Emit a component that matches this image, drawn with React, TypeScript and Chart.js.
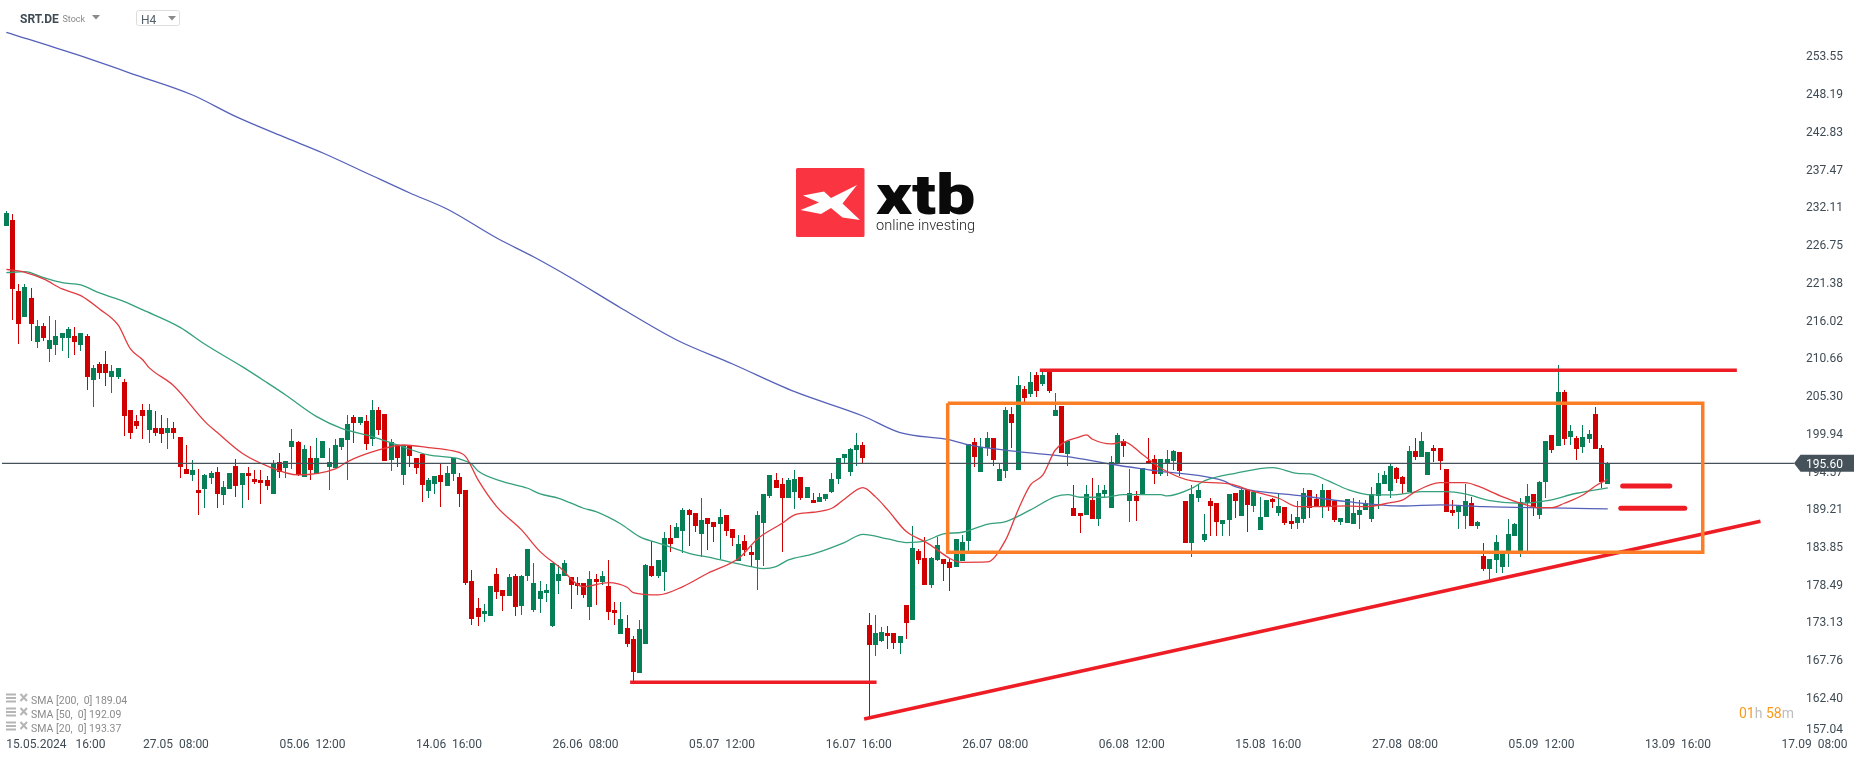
import React, { useEffect, useRef } from "react";
import Chart from "chart.js/auto";

// candles, one per 4 hour bar
const opens = [
  229.36,230.17,220.08,216.43,219.09,212.88,215.11,211.89,212.41,213.40,
  213.40,213.69,212.41,213.69,207.44,209.71,209.71,207.86,207.86,207.15,
  203.17,201.61,203.17,200.33,200.62,200.62,199.91,200.62,199.34,194.79,
  193.94,191.81,191.95,193.51,194.36,191.10,191.95,195.22,192.52,194.22,
  193.37,193.23,193.23,191.24,195.79,194.94,197.92,198.63,193.66,196.36,
  194.09,196.36,195.08,194.94,197.92,198.92,202.18,201.33,201.62,199.06,
  203.18,202.61,196.07,198.21,193.94,198.21,196.36,196.93,191.67,192.66,
  193.94,192.38,194.09,193.66,191.81,178.88,175.05,174.19,173.91,179.88,
  177.60,176.75,179.59,175.33,179.59,174.76,176.33,177.18,172.49,178.89,
  179.60,179.45,178.60,178.60,175.19,179.17,178.74,178.18,174.77,171.36,
  172.21,170.65,165.82,169.94,181.02,179.60,180.17,185.00,185.00,185.99,
  188.97,188.55,185.56,187.84,187.27,186.99,188.26,186.27,181.73,184.57,
  183.01,181.87,187.13,190.96,193.24,192.67,190.68,191.53,193.66,190.68,
  190.39,190.10,190.53,191.53,193.37,196.36,194.37,197.49,198.20,172.63,
  169.79,170.36,171.49,171.49,170.07,175.47,173.34,183.14,182.15,178.31,
  181.86,182.00,181.58,180.87,181.72,184.56,198.63,194.37,197.78,199.20,
  193.09,194.51,202.61,194.65,206.16,205.45,208.15,206.87,208.58,202.32,
  203.74,196.92,189.25,188.55,188.26,190.39,187.69,191.25,189.26,195.65,
  198.78,190.25,190.96,191.10,195.93,196.22,194.09,195.60,195.93,197.21,
  190.25,184.28,190.68,184.71,190.25,189.97,186.98,187.55,191.39,188.12,
  191.81,189.54,186.13,187.98,190.54,188.55,189.40,187.41,187.13,187.69,
  191.81,190.54,189.54,191.81,190.25,187.27,187.13,186.98,188.26,188.97,
  187.69,190.96,192.66,191.67,194.94,193.66,191.53,197.35,196.50,193.94,
  197.78,197.78,194.79,188.97,188.68,188.12,189.96,186.70,182.43,180.59,
  181.86,180.87,182.72,185.27,183.14,189.96,191.24,188.26,192.95,199.62,
  198.06,205.73,199.34,199.20,197.92,199.06,202.61,197.78,192.66,
];
const highs = [
  231.45,231.02,221.08,221.08,220.51,215.96,215.53,216.53,215.96,214.11,
  214.97,214.97,214.11,213.97,209.57,210.00,211.56,209.57,209.14,207.58,
  203.17,202.46,204.03,204.03,203.03,202.46,202.04,201.47,199.34,198.20,
  196.07,194.79,194.08,194.51,195.08,193.09,194.22,196.21,194.22,195.08,
  194.65,194.65,193.80,196.07,197.07,195.93,200.48,198.77,198.21,198.06,
  199.20,198.77,197.78,199.06,199.20,202.47,202.47,202.18,202.47,204.60,
  203.60,202.61,199.06,198.21,198.21,198.21,196.36,196.93,193.52,193.80,
  195.51,195.22,196.36,194.23,191.81,180.45,176.47,175.62,178.17,180.73,
  177.60,179.88,179.88,179.74,183.43,181.44,178.88,178.46,181.44,181.16,
  181.87,179.45,179.45,178.60,180.31,179.88,180.31,181.87,175.90,175.90,
  174.05,171.07,173.35,181.30,184.57,181.87,185.85,186.84,187.13,189.26,
  189.12,188.55,190.68,187.84,187.27,189.12,188.26,186.27,185.42,185.42,
  183.86,188.83,191.25,193.95,194.23,193.52,193.52,194.66,193.66,192.24,
  191.38,191.38,191.24,194.23,196.36,196.92,197.78,199.91,198.63,174.33,
  174.05,172.34,172.49,171.49,171.07,175.47,186.70,183.43,185.13,182.29,
  185.13,182.00,182.00,184.85,185.42,198.35,199.20,199.20,200.05,199.20,
  195.65,203.60,203.60,208.01,206.59,208.58,208.58,208.58,208.58,205.59,
  203.74,198.77,192.52,188.55,192.52,193.52,192.52,192.52,196.65,199.91,
  199.06,194.80,191.67,194.94,199.20,196.79,196.22,197.50,197.50,197.21,
  190.25,192.52,192.67,188.40,190.68,189.97,187.55,191.25,191.39,192.10,
  191.81,191.53,190.82,190.39,190.68,191.25,189.40,188.40,190.25,192.10,
  191.81,191.25,192.67,191.81,190.25,187.84,190.54,190.67,190.39,190.39,
  192.24,194.23,194.51,195.65,195.08,193.80,198.06,199.20,200.05,197.21,
  198.20,197.78,194.79,190.39,189.54,192.66,190.81,187.41,184.28,182.00,
  185.42,182.86,187.69,187.12,190.67,192.66,191.24,193.09,198.77,199.62,
  209.57,206.02,201.05,199.48,201.05,200.33,203.60,198.20,195.79,
];
const lows = [
  229.36,215.96,212.55,216.43,212.98,211.98,212.98,210.00,210.99,211.56,
  210.56,210.99,211.56,206.02,203.60,207.58,206.58,205.59,207.58,199.48,
  199.05,200.47,199.05,198.48,199.48,198.48,197.63,199.05,193.51,194.08,
  193.09,188.25,189.25,192.66,189.25,189.68,191.95,190.81,189.25,190.39,
  192.66,189.82,191.81,191.24,193.52,193.52,194.80,193.80,193.66,193.23,
  194.09,196.36,191.81,194.94,197.50,193.23,198.49,201.05,197.50,198.06,
  199.63,195.93,194.51,195.08,192.52,195.08,194.09,190.11,190.68,191.24,
  189.40,192.38,193.09,189.40,178.31,172.63,172.49,173.06,173.91,176.33,
  174.62,176.75,173.91,174.05,178.88,174.48,174.34,175.90,172.35,177.04,
  179.60,174.91,176.90,176.47,173.35,175.48,178.32,173.35,172.64,171.36,
  169.51,164.68,165.82,169.94,179.45,179.31,177.47,183.01,185.00,182.86,
  183.86,185.85,182.30,183.29,184.43,182.01,185.28,183.86,181.73,182.44,
  180.88,177.61,181.02,190.68,192.10,183.01,190.68,189.12,190.39,190.68,
  189.96,190.10,190.25,191.38,192.66,195.65,193.80,195.22,195.65,159.41,
  168.22,170.21,169.22,169.22,168.51,170.64,173.34,181.30,178.31,177.89,
  181.72,178.88,177.46,180.87,181.72,183.14,195.08,194.37,196.64,195.22,
  193.09,193.51,197.78,194.65,204.31,205.02,205.02,206.59,205.59,202.32,
  197.07,195.22,188.12,185.71,188.26,187.69,186.70,190.68,189.26,195.65,
  196.50,187.27,187.41,191.10,195.65,192.67,193.80,193.80,194.66,193.80,
  184.28,182.29,190.11,184.43,185.28,185.28,185.28,185.28,187.84,188.12,
  185.85,188.69,186.13,187.98,189.26,188.12,186.84,186.27,186.27,187.13,
  187.84,189.54,187.84,188.83,187.27,186.84,187.13,186.98,186.27,188.97,
  187.26,189.11,192.66,190.67,192.80,191.24,191.53,196.07,196.50,193.94,
  195.79,194.65,188.68,188.12,186.27,186.27,186.70,186.27,180.30,179.02,
  180.02,180.02,180.87,185.27,182.29,183.14,188.12,187.69,190.67,197.07,
  198.06,198.20,198.20,196.07,197.07,198.49,197.63,192.09,192.66,
];
const closes = [
  231.16,220.41,215.44,220.65,215.44,215.11,213.45,213.12,213.69,214.11,
  214.68,212.83,214.11,207.86,209.14,208.43,208.43,208.71,209.14,202.32,
  199.91,200.90,202.32,203.17,199.91,199.76,200.62,199.91,195.08,194.08,
  194.65,191.38,193.94,194.22,191.24,192.23,194.22,192.38,194.22,193.80,
  192.94,192.80,192.38,195.65,194.37,195.93,198.77,193.94,197.64,194.65,
  196.36,198.77,195.79,198.21,199.20,201.19,201.33,202.18,198.35,203.18,
  200.34,195.93,198.63,196.36,198.21,196.64,194.94,192.52,193.23,193.80,
  192.95,194.23,196.36,191.24,178.60,173.48,173.77,174.62,178.17,177.32,
  176.75,179.45,175.19,179.59,183.43,178.60,177.46,177.61,181.44,179.88,
  181.44,178.32,178.18,176.90,179.17,178.74,179.60,174.48,174.34,173.49,
  169.94,165.96,172.07,181.16,179.60,181.87,185.00,184.14,186.56,188.97,
  188.26,186.70,187.55,186.99,186.56,187.98,185.99,185.00,184.14,183.29,
  182.58,188.26,191.25,193.95,192.10,190.68,193.24,193.38,190.68,192.24,
  189.96,190.81,191.24,193.37,196.36,196.92,197.63,198.20,196.36,169.79,
  171.49,171.63,171.07,170.07,171.07,172.91,183.57,181.86,178.31,182.15,
  183.99,181.30,180.73,184.85,184.42,198.35,196.50,197.92,199.20,196.07,
  194.79,203.18,201.33,206.73,204.88,207.15,205.88,208.15,205.88,203.18,
  197.07,198.77,188.12,188.12,191.25,187.69,191.39,191.81,195.79,199.63,
  198.07,191.39,190.25,194.94,195.65,194.09,196.22,196.22,197.36,194.51,
  184.28,191.25,191.81,185.56,189.54,187.27,187.55,191.25,190.25,191.81,
  189.68,191.53,187.98,190.39,190.11,189.54,187.13,186.98,187.98,191.39,
  189.26,189.54,191.81,189.54,187.55,187.84,190.54,188.54,188.97,189.96,
  191.24,192.80,193.94,195.22,193.37,192.66,197.35,196.50,198.77,197.21,
  197.35,195.93,188.68,188.54,189.54,190.25,186.70,187.26,180.59,182.00,
  184.42,182.72,185.56,186.98,190.10,190.96,189.25,192.95,198.77,197.49,
  205.73,199.06,200.19,197.63,199.34,199.77,197.63,192.95,195.60,
];

// moving averages, sampled at the candle numbers in the *Bars arrays
const sma200Bars = [0,11,21,30,37,45,51,58,65,71,79,85,91,99,108,117,127,138,144,152,155,163,171,178,185,196,198,209,216,225,231,238,249,258];
const sma200 = [256.84,253.76,250.73,247.93,244.85,241.86,239.69,236.85,234.01,231.73,227.61,224.91,221.93,217.67,213.12,209.71,205.77,202.32,199.95,198.91,198.2,197.25,196.54,195.46,194.55,193.13,192.28,190.95,190.14,189.53,189.68,189.43,189.25,189.11];

const sma50Bars = [0,3,6,9,12,15,19,22,28,32,38,42,45,50,54,59,63,68,73,75,76,80,84,86,89,93,95,99,102,106,110,114,117,120,122,124,126,130,135,138,142,145,148,151,154,158,161,165,169,171,173,177,180,186,187,191,193,198,204,208,210,213,216,220,223,228,232,235,239,244,248,253,258];
const sma50 = [222.69,222.83,221.98,221.27,220.94,219.8,218.57,217.39,214.92,212.51,209.33,207.06,205.31,202.23,200.57,199.39,198.2,196.78,196.22,195.46,194.51,193.0,192.05,191.24,190.63,189.21,188.73,186.98,185.18,184.0,182.81,182.1,181.49,180.92,180.63,180.92,181.87,182.72,184.33,185.51,184.85,184.33,184.57,185.56,185.8,186.93,187.31,188.97,190.86,191.15,190.77,190.77,191.15,191.15,190.96,192.05,193.09,194.18,194.98,194.18,194.08,193.09,191.91,191.1,191.1,191.57,191.57,191.24,190.3,189.92,190.25,191.34,192.1];

const sma20Bars = [0,3,6,9,12,15,18,20,22,23,27,32,34,38,42,47,53,55,60,64,68,72,74,76,79,83,86,89,93,97,100,101,105,109,113,118,121,125,127,130,133,135,138,140,142,145,148,154,158,161,163,165,167,169,173,174,175,178,180,183,186,191,197,201,205,208,211,216,219,223,225,227,231,235,237,241,244,247,249,251,254,256,258];
const sma20 = [223.16,222.74,221.79,220.37,219.42,217.53,215.25,211.84,210.28,209.19,206.59,201.52,199.96,197.02,195.22,193.94,194.79,195.84,197.49,198.2,197.83,197.35,196.55,193.23,189.44,186.13,183.05,180.92,178.08,178.65,177.98,177.22,176.89,178.08,179.97,182.1,184.85,187.08,188.26,188.64,189.21,190.49,192.14,190.86,188.97,185.89,184.47,181.53,181.58,184.71,188.97,192.52,193.94,197.49,199.39,199.63,199.01,198.35,198.68,196.88,194.89,193.09,192.66,191.57,190.63,189.44,189.44,189.54,189.44,190.01,190.39,191.57,192.85,192.85,192.38,190.86,189.92,189.3,189.3,189.92,191.1,192.38,193.33];

// hand drawn lines on top of the chart
const lastPrice = 195.6;
const priceLineBars = [-0.7, 288];
const resistanceBars = [166.5, 278.8];
const resistancePrices = [208.81, 208.81];
const supportBars = [100.5, 140.2];
const supportPrices = [164.48, 164.48];
const trendBars = [138.2, 282.6];
const trendPrices = [159.27, 187.36];
const markOneBars = [260.4, 268];
const markOnePrices = [192.37, 192.37];
const markTwoBars = [260.1, 270.4];
const markTwoPrices = [189.21, 189.21];
const boxBars = [151.66, 273.3, 273.3, 151.66, 151.66];
const boxPrices = [204.12, 204.12, 182.95, 182.95, 204.12];

const timeLabels = [
  "15.05.2024   16:00", "27.05  08:00", "05.06  12:00", "14.06  16:00", "26.06  08:00",
  "05.07  12:00", "16.07  16:00", "26.07  08:00", "06.08  12:00", "15.08  16:00",
  "27.08  08:00", "05.09  12:00", "13.09  16:00", "17.09  08:00",
];
const priceLabels = [
  "253.55", "248.19", "242.83", "237.47", "232.11", "226.75", "221.38", "216.02", "210.66", "205.30",
  "199.94", "194.57", "189.21", "183.85", "178.49", "173.13", "167.76", "162.40", "157.04",
];
const smaLegend = ["SMA [200,  0] 189.04", "SMA [50,  0] 192.09", "SMA [20,  0] 193.37"];

const GREEN = "#067f56";
const RED = "#d10000";
const MARK_RED = "#ee1c25";
const ORANGE = "#fb7e27";
const INK = "#3f4b54";

const points = (xs: number[], ys: number[]) => xs.map((x, i) => ({ x, y: ys[i] }));

// keep the candles on whole pixels, the source chart has crisp edges
const snapBars = {
  id: "snapBars",
  afterDatasetsUpdate(chart: any) {
    chart.getSortedVisibleDatasetMetas().forEach((meta: any) => {
      if (meta.type !== "bar") return;
      meta.data.forEach((el: any) => {
        el.x = Math.floor(el.x) + 0.5;
        el.y = Math.round(el.y);
        el.base = Math.round(el.base);
      });
    });
  },
};

const triangle = (ctx: CanvasRenderingContext2D, x: number, y: number, w: number, h: number, color: string) => {
  ctx.fillStyle = color;
  ctx.beginPath();
  ctx.moveTo(x, y);
  ctx.lineTo(x + w, y);
  ctx.lineTo(x + w / 2, y + h);
  ctx.closePath();
  ctx.fill();
};

const drawLogo = (ctx: CanvasRenderingContext2D) => {
  ctx.fillStyle = "#fb3442";
  ctx.beginPath();
  ctx.roundRect(796, 168, 68.5, 69, 1.5);
  ctx.fill();
  ctx.fillStyle = "#ffffff";
  const star = [[803,195.5],[824,191.5],[831,198],[857,185],[842.5,203.5],[860,220],[842.5,217.5],[831,208],[821,214],[800.5,210],[819,202.5]];
  ctx.beginPath();
  star.forEach(([x, y], i) => (i ? ctx.lineTo(x, y) : ctx.moveTo(x, y)));
  ctx.closePath();
  ctx.fill();
  ctx.fillStyle = "#0a0a0a";
  ctx.textAlign = "left";
  ctx.textBaseline = "alphabetic";
  ctx.font = "900 56px Roboto";
  // the wordmark is wider than Roboto
  ctx.save();
  ctx.translate(876, 214);
  ctx.scale(1.25, 1);
  ctx.fillText("xtb", 0, 0);
  ctx.restore();
  ctx.fillStyle = "#222222";
  ctx.font = "300 14.6px Roboto";
  ctx.fillText("online investing", 876, 230);
};

const chrome = {
  id: "chrome",
  afterDraw(chart: any) {
    const ctx: CanvasRenderingContext2D = chart.ctx;
    const y = chart.scales.y.getPixelForValue(lastPrice);
    ctx.save();
    drawLogo(ctx);

    // instrument header
    ctx.textBaseline = "middle";
    ctx.textAlign = "left";
    ctx.fillStyle = INK;
    ctx.font = "bold 12px Roboto";
    ctx.fillText("SRT.DE", 20, 19.5);
    ctx.fillStyle = "#8a8a8a";
    ctx.font = "9px Roboto";
    ctx.fillText("Stock", 62.5, 19.5);
    triangle(ctx, 92, 15, 8, 4.5, "#8a8a8a");
    ctx.strokeStyle = "#dddddd";
    ctx.lineWidth = 1;
    ctx.beginPath();
    ctx.roundRect(136.5, 10.5, 43, 15, 2);
    ctx.stroke();
    ctx.fillStyle = "#55606a";
    ctx.font = "12px Roboto";
    ctx.fillText("H4", 141, 20.5);
    triangle(ctx, 168, 16, 8, 4.5, "#8a8a8a");

    // indicator list, bottom left
    smaLegend.forEach((text, i) => {
      const row = 700 + i * 14;
      ctx.fillStyle = "#b5b5b5";
      ctx.fillRect(6, row - 6.5, 10, 2);
      ctx.fillRect(6, row - 3, 10, 2);
      ctx.fillRect(6, row + 0.5, 10, 2);
      ctx.strokeStyle = "#b5b5b5";
      ctx.lineWidth = 2;
      ctx.beginPath();
      ctx.moveTo(20.5, row - 6);
      ctx.lineTo(27, row + 1);
      ctx.moveTo(27, row - 6);
      ctx.lineTo(20.5, row + 1);
      ctx.stroke();
      ctx.fillStyle = "#8b8b8b";
      ctx.font = "10.5px Roboto";
      ctx.fillText(text, 31, row + 1);
    });

    // time left on the running candle
    let x = 1739;
    ctx.font = "14px Roboto";
    ctx.textBaseline = "middle";
    [["01", "#f99a1c"], ["h ", "#bdbdbd"], ["58", "#f99a1c"], ["m", "#bdbdbd"]].forEach(([text, color]) => {
      ctx.fillStyle = color;
      ctx.fillText(text, x, 714.5);
      x += ctx.measureText(text).width;
    });

    // last price tag
    ctx.fillStyle = "#46525a";
    ctx.beginPath();
    ctx.moveTo(1794, y);
    ctx.lineTo(1800.5, y - 8.5);
    ctx.lineTo(1854, y - 8.5);
    ctx.lineTo(1854, y + 8.5);
    ctx.lineTo(1800.5, y + 8.5);
    ctx.closePath();
    ctx.fill();
    ctx.fillStyle = "#ffffff";
    ctx.font = "12px Roboto";
    ctx.fillText(lastPrice.toFixed(2), 1806, y + 1.5);
    ctx.restore();
  },
};

export default function App() {
  const canvasRef = useRef<HTMLCanvasElement>(null);

  useEffect(() => {
    if (!canvasRef.current) return;

    const candleColors = closes.map((c, i) => (c >= opens[i] ? GREEN : RED));
    const line = (data: any[], color: string, width: number, order: number, extra: any = {}) => ({
      type: "line",
      data,
      borderColor: color,
      borderWidth: width,
      pointRadius: 0,
      tension: 0,
      order,
      ...extra,
    });
    const smooth = { cubicInterpolationMode: "monotone" };

    const chart = new Chart(canvasRef.current, {
      type: "bar",
      data: {
        datasets: [
          line(points(boxBars, boxPrices), ORANGE, 3.5, 1, { borderJoinStyle: "miter" }),
          line(points(resistanceBars, resistancePrices), MARK_RED, 3.5, 1),
          line(points(supportBars, supportPrices), MARK_RED, 3.5, 1),
          line(points(trendBars, trendPrices), MARK_RED, 3.5, 1),
          line(points(markOneBars, markOnePrices), MARK_RED, 5, 1, { borderCapStyle: "round" }),
          line(points(markTwoBars, markTwoPrices), MARK_RED, 5, 1, { borderCapStyle: "round" }),
          line(priceLineBars.map((x) => ({ x, y: lastPrice })), "#46525a", 1.2, 2),
          line(points(sma20Bars, sma20), "#e23b3f", 1.3, 3, smooth),
          line(points(sma50Bars, sma50), "#35a07c", 1.3, 3, smooth),
          line(points(sma200Bars, sma200), "#5561b9", 1.3, 3, smooth),
          {
            data: opens.map((o, i) => ({ x: i, y: [o, closes[i]] })),
            backgroundColor: candleColors,
            barThickness: 5,
            grouped: false,
            inflateAmount: 0,
            order: 4,
          },
          {
            data: lows.map((l, i) => ({ x: i, y: [l, highs[i]] })),
            backgroundColor: candleColors,
            barThickness: 1,
            grouped: false,
            inflateAmount: 0,
            order: 5,
          },
        ] as any,
      },
      options: {
        responsive: false,
        animation: false,
        events: [],
        layout: { padding: 0 },
        plugins: { legend: { display: false }, tooltip: { enabled: false } },
        scales: {
          x: {
            type: "linear",
            offset: false,
            min: -1.02,
            max: 288.97,
            grid: { display: false, drawTicks: false },
            border: { display: false },
            ticks: {
              autoSkip: false,
              maxRotation: 0,
              align: "start",
              padding: 3,
              color: INK,
              font: { family: "Roboto", size: 12 },
              callback: (_v: any, i: number) => timeLabels[i],
            },
            afterBuildTicks: (s: any) => {
              s.ticks = timeLabels.map((_, i) => ({ value: i * 22 }));
            },
            afterFit: (s: any) => {
              s.height = 24;
              s.paddingLeft = s.paddingRight = 0;
            },
          },
          y: {
            type: "linear",
            position: "right",
            min: 156.99,
            max: 261.43,
            grid: { display: false, drawTicks: false },
            border: { display: false },
            ticks: {
              autoSkip: false,
              padding: 6,
              color: INK,
              font: { family: "Roboto", size: 12 },
              callback: (_v: any, i: number) => priceLabels[i],
            },
            afterBuildTicks: (s: any) => {
              // labels sit 2px under their level in the source, the lowest is pushed up off the edge
              s.ticks = priceLabels.map((p, i) => ({
                value: parseFloat(p) + (i === priceLabels.length - 1 ? 0.63 : -0.28),
              }));
            },
            afterFit: (s: any) => {
              s.width = 66;
              s.paddingTop = s.paddingBottom = 0;
            },
          },
        },
      } as any,
      plugins: [snapBars, chrome],
    });

    return () => {
      chart.destroy();
    };
  }, []);

  return (
    <div style={{ position: "absolute", left: 0, top: 0, width: 1866, height: 759, background: "#fff" }}>
      <canvas ref={canvasRef} width={1866} height={759} style={{ display: "block" }}></canvas>
    </div>
  );
}
